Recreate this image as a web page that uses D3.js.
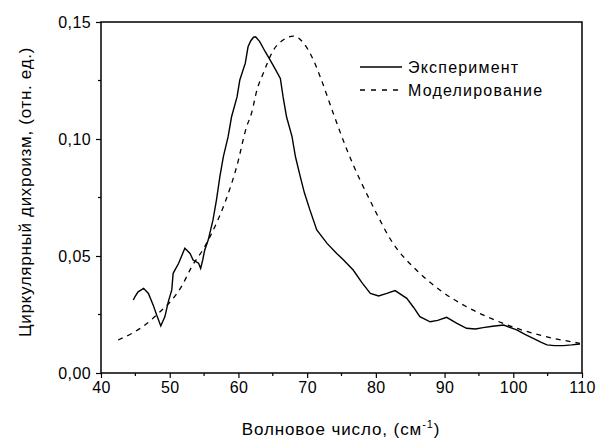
<!DOCTYPE html>
<html>
<head>
<meta charset="utf-8">
<script src="https://cdn.jsdelivr.net/npm/d3@7"></script>
<style>
  body { margin: 0; background: #fff; }
  text { font-family: "Liberation Sans", Arial, sans-serif; fill: #000; }
</style>
</head>
<body>
<div id="chart"></div>
<script>
// experiment (solid)
var expX = [44.7, 44.95, 45.4, 46.2, 46.9, 47.6, 48.1, 48.7, 49.3, 49.8, 50.3, 50.5, 51.3, 52.2, 52.96, 53.4, 54.2, 54.5, 54.8, 55.1, 55.6,
  56.3, 56.8, 57.3, 57.8, 58.5, 59.0, 59.8, 60.2, 61.0, 61.4, 61.8, 62.2, 62.5, 63.1, 63.9, 64.6, 65.3, 66.1, 66.5, 67.0, 67.8, 68.3, 69.0,
  69.6, 70.4, 71.4, 72.9, 74.3, 75.3, 76.7,
  78.0, 79.2, 80.4, 81.6, 82.8, 84.5, 85.5, 86.4, 87.9, 89.0, 90.3, 91.8, 93.2, 94.5, 95.6, 97.0, 98.6, 100.5, 101.7, 102.9,
  104.0, 104.9, 106.0, 107.3, 108.5, 109.7];
var expY = [0.0312, 0.0326, 0.0347, 0.0362, 0.034, 0.029, 0.0248, 0.0201, 0.0241, 0.0305, 0.0355, 0.0426, 0.0469, 0.0533, 0.0511, 0.0483, 0.0469, 0.0447, 0.0483, 0.0526, 0.0568,
  0.0654, 0.0739, 0.0839, 0.0924, 0.101, 0.1095, 0.118, 0.1252, 0.1324, 0.1394, 0.1420, 0.1435, 0.1437, 0.1416, 0.1373, 0.1338, 0.1302, 0.1259, 0.118, 0.1095, 0.101, 0.0924, 0.0839,
  0.0770, 0.0697, 0.0611, 0.0554, 0.0511, 0.0483, 0.044,
  0.0385, 0.034, 0.0329, 0.0340, 0.0352, 0.0319, 0.0280, 0.0241, 0.0219, 0.0225, 0.0238, 0.0212, 0.0191, 0.0188, 0.0194, 0.0200, 0.0205, 0.0184, 0.0165, 0.0148,
  0.0132, 0.012, 0.0117, 0.0117, 0.0120, 0.0124];

// model (dashed)
var modX = [42.5, 46.4, 48.6, 50.3, 51.7, 53.2, 55.1, 56.8, 58.0, 59.75, 61.2, 61.9, 62.7, 63.6, 65.1, 66.5, 68.0, 69.5, 70.9, 71.9, 73.8, 75.8, 79.6, 82.5, 85.9, 89.3, 93.2, 97.1, 100.5, 104.4, 109.7];
var modY = [0.0141, 0.0205, 0.0262, 0.0312, 0.0369, 0.0454, 0.054, 0.064, 0.0725, 0.0882, 0.1053, 0.111, 0.121, 0.128, 0.138, 0.1423, 0.144, 0.1409, 0.1338, 0.1266, 0.111, 0.0953, 0.0711, 0.0554, 0.044, 0.0355, 0.0283, 0.0229, 0.0191, 0.0158, 0.0127];

var xTicks = [40, 50, 60, 70, 80, 90, 100, 110];
var yTicks = [0, 0.05, 0.10, 0.15];
var legendNames = ["Эксперимент", "Моделирование"];

var WIDTH = 598, HEIGHT = 439;
// plot box (window.top is read-only, so no "top" here)
var pL = 101, pR = 582, pT = 22, pB = 373;

var svg = d3.select("#chart").append("svg")
  .attr("width", WIDTH)
  .attr("height", HEIGHT);

var x = d3.scaleLinear().domain([40, 110]).range([pL, pR]);
var y = d3.scaleLinear().domain([0, 0.15]).range([pB, pT]);

var fmt = function(d) { return d3.format(".2f")(d).replace(".", ","); };

// minor ticks
svg.selectAll(".xminor").data(d3.range(45, 110, 10)).enter().append("line")
  .attr("x1", function(d) { return x(d); }).attr("x2", function(d) { return x(d); })
  .attr("y1", pB).attr("y2", pB + 3)
  .attr("stroke", "#000").attr("stroke-width", 1.2);
svg.selectAll(".yminor").data([0.025, 0.075, 0.125]).enter().append("line")
  .attr("x1", pL - 3).attr("x2", pL)
  .attr("y1", function(d) { return y(d); }).attr("y2", function(d) { return y(d); })
  .attr("stroke", "#000").attr("stroke-width", 1.2);

var xAxis = svg.append("g")
  .attr("transform", "translate(0," + pB + ")")
  .call(d3.axisBottom(x).tickValues(xTicks).tickSize(5).tickPadding(4).tickFormat(d3.format("d")));
var yAxis = svg.append("g")
  .attr("transform", "translate(" + pL + ",0)")
  .call(d3.axisLeft(y).tickValues(yTicks).tickSize(5).tickPadding(5).tickFormat(fmt));

[xAxis, yAxis].forEach(function(g) {
  g.select(".domain").remove();
  g.selectAll(".tick line").attr("stroke", "#000").attr("stroke-width", 1.2);
  g.selectAll(".tick text")
    .style("font-size", "16px")
    .style("letter-spacing", "0.4px")
    .style("font-family", "Liberation Sans, Arial, sans-serif");
});

// frame
svg.append("rect")
  .attr("x", pL).attr("y", pT)
  .attr("width", pR - pL).attr("height", pB - pT)
  .attr("fill", "none").attr("stroke", "#000").attr("stroke-width", 1.5);

var line = d3.line()
  .x(function(d) { return x(d[0]); })
  .y(function(d) { return y(d[1]); });

svg.append("path")
  .datum(d3.zip(modX, modY))
  .attr("d", line.curve(d3.curveMonotoneX))
  .attr("fill", "none").attr("stroke", "#000").attr("stroke-width", 1.3)
  .attr("stroke-dasharray", "5,5");

svg.append("path")
  .datum(d3.zip(expX, expY))
  .attr("d", line.curve(d3.curveLinear))
  .attr("fill", "none").attr("stroke", "#000").attr("stroke-width", 1.4);

// legend
var legend = svg.append("g");
legend.append("line").attr("x1", 360).attr("x2", 402).attr("y1", 67).attr("y2", 67)
  .attr("stroke", "#000").attr("stroke-width", 1.4);
legend.append("line").attr("x1", 360).attr("x2", 402).attr("y1", 90).attr("y2", 90)
  .attr("stroke", "#000").attr("stroke-width", 1.3).attr("stroke-dasharray", "5,6");
legend.selectAll("text").data(legendNames).enter().append("text")
  .attr("x", 408)
  .attr("y", function(d, i) { return 73 + i * 23; })
  .style("font-size", "16px")
  .style("letter-spacing", "1.2px")
  .text(function(d) { return d; });

// axis titles
var xt = svg.append("text")
  .attr("x", 341).attr("y", 435)
  .attr("text-anchor", "middle")
  .style("font-size", "17px")
  .style("letter-spacing", "0.9px");
xt.append("tspan").text("Волновое число, (см");
xt.append("tspan").attr("dy", -7).style("font-size", "11px").text("-1");
xt.append("tspan").attr("dy", 7).text(")");

svg.append("text")
  .attr("transform", "translate(31,192) rotate(-90)")
  .attr("text-anchor", "middle")
  .style("font-size", "17px")
  .style("letter-spacing", "0.7px")
  .text("Циркулярный дихроизм, (отн. ед.)");
</script>
</body>
</html>
